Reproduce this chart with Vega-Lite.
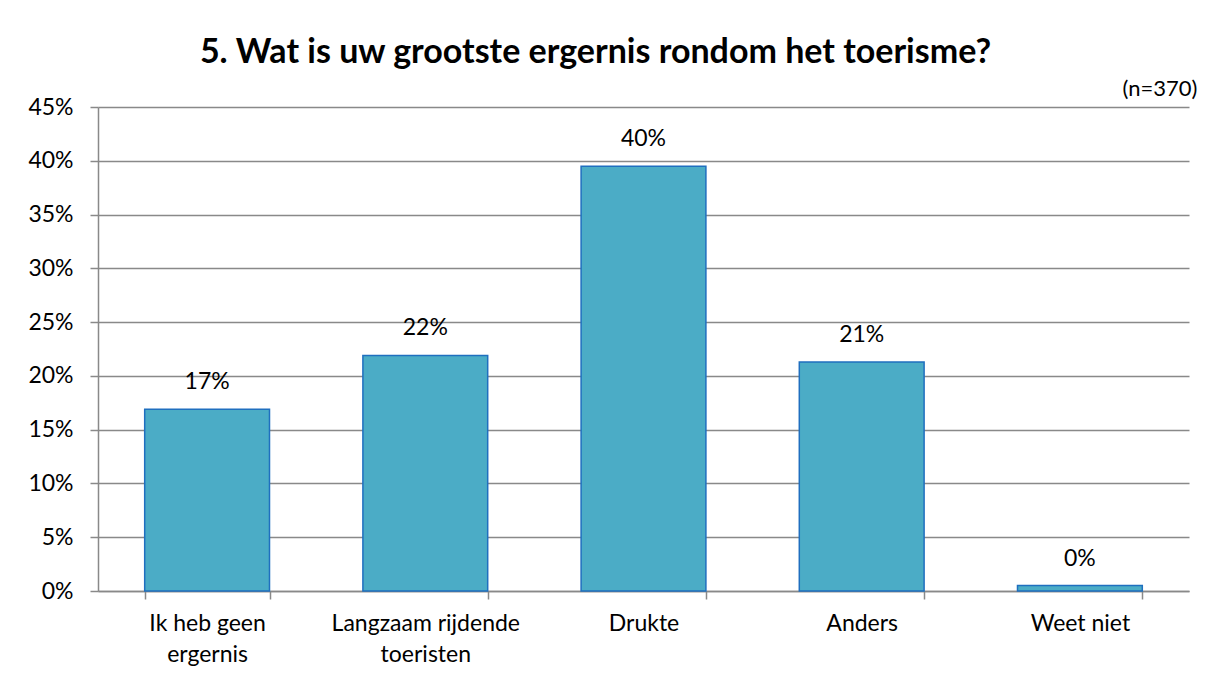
{
  "$schema": "https://vega.github.io/schema/vega-lite/v6.json",
  "width": 1091,
  "height": 484,
  "autosize": {"type": "none"},
  "padding": {"left": 98, "top": 107, "right": 25, "bottom": 90},
  "background": "white",
  "config": {
    "view": {"stroke": null},
    "font": "Lato",
    "axis": {"labelFont": "Lato", "titleFont": "Lato"}
  },
  "title": {
    "text": "5. Wat is uw grootste ergernis rondom het toerisme?",
    "font": "Lato",
    "fontSize": 34,
    "fontWeight": "bold",
    "color": "#000000",
    "anchor": "middle",
    "offset": 7,
    "dx": -48
  },
  "data": {
    "values": [
      {"categorie": "Ik heb geen ergernis", "aandeel": 0.169, "label": "17%"},
      {"categorie": "Langzaam rijdende toeristen", "aandeel": 0.219, "label": "22%"},
      {"categorie": "Drukte", "aandeel": 0.395, "label": "40%"},
      {"categorie": "Anders", "aandeel": 0.213, "label": "21%"},
      {"categorie": "Weet niet", "aandeel": 0.005, "label": "0%"}
    ]
  },
  "encoding": {
    "x": {
      "field": "categorie",
      "type": "nominal",
      "sort": null,
      "scale": {"paddingInner": 0.428, "paddingOuter": 0.214},
      "axis": {
        "title": null,
        "labelAngle": 0,
        "labelFontSize": 23,
        "labelColor": "#000000",
        "labelPadding": 13,
        "labelLineHeight": 31,
        "labelBaseline": "top",
        "labelLimit": 0,
        "tickBand": "extent",
        "tickSize": 8,
        "tickColor": "#898989",
        "tickWidth": 1.5,
        "domainColor": "#898989",
        "domainWidth": 1.5,
        "labelExpr": "datum.value == 'Ik heb geen ergernis' ? ['Ik heb geen', 'ergernis'] : datum.value == 'Langzaam rijdende toeristen' ? ['Langzaam rijdende', 'toeristen'] : datum.value"
      }
    },
    "y": {
      "field": "aandeel",
      "type": "quantitative",
      "scale": {"domain": [0, 0.45], "nice": false},
      "axis": {
        "title": "(n=370)",
        "titleAngle": 0,
        "titleAlign": "right",
        "titleBaseline": "alphabetic",
        "titleX": 1099,
        "titleY": -12,
        "titleFontSize": 22,
        "titleFontWeight": "normal",
        "titleColor": "#000000",
        "format": ".0%",
        "values": [0, 0.05, 0.1, 0.15, 0.2, 0.25, 0.3, 0.35, 0.4, 0.45],
        "labelFontSize": 23,
        "labelColor": "#000000",
        "labelPadding": 17,
        "tickSize": 8,
        "tickColor": "#898989",
        "tickWidth": 1.5,
        "domainColor": "#898989",
        "domainWidth": 1.5,
        "grid": true,
        "gridColor": "#898989",
        "gridWidth": 1.5
      }
    }
  },
  "layer": [
    {
      "mark": {"type": "bar", "fill": "#4BACC6", "stroke": "#1F6FBF", "strokeWidth": 1.5}
    },
    {
      "mark": {"type": "text", "baseline": "alphabetic", "dy": -20, "fontSize": 23, "color": "#000000", "font": "Lato"},
      "encoding": {"text": {"field": "label"}}
    }
  ]
}
